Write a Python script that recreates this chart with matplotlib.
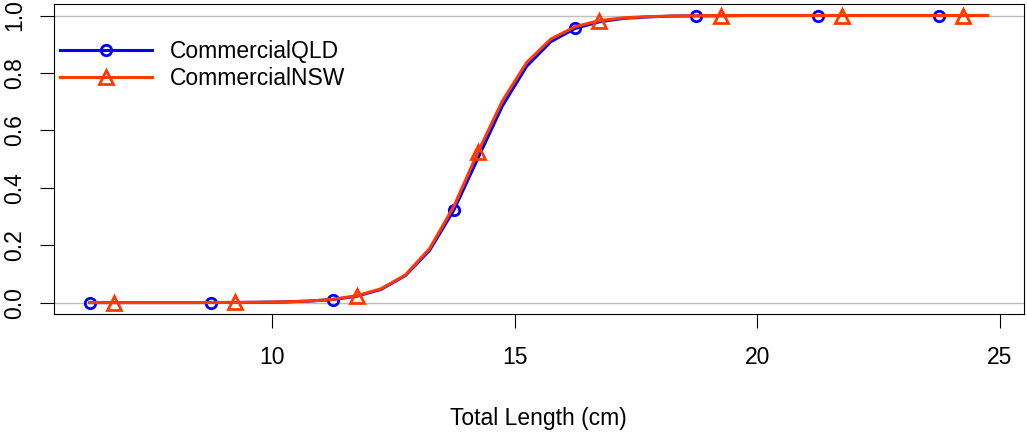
import matplotlib
matplotlib.use("Agg")
import matplotlib.pyplot as plt
import numpy as np

plt.rcParams["font.family"] = ["Liberation Sans", "DejaVu Sans"]
plt.rcParams["font.size"] = 16.5

# total length (cm), 0.5 cm bins
length = np.arange(6.25, 24.76, 0.5)

# estimated selectivity
qld = [0.000, 0.000, 0.000, 0.000, 0.000, 0.0002, 0.0005, 0.0011, 0.0023, 0.005,
       0.0105, 0.022, 0.046, 0.094, 0.182, 0.322, 0.504, 0.685, 0.823, 0.909,
       0.955, 0.978, 0.990, 0.995, 0.998, 0.999, 0.999, 1.000, 1.000, 1.000,
       1.000, 1.000, 1.000, 1.000, 1.000, 1.000, 1.000, 1.000]
nsw = [0.000, 0.000, 0.000, 0.000, 0.000, 0.0002, 0.0005, 0.0011, 0.0024, 0.0052,
       0.011, 0.024, 0.048, 0.096, 0.188, 0.335, 0.525, 0.702, 0.836, 0.918,
       0.961, 0.982, 0.992, 0.996, 0.998, 0.999, 1.000, 1.000, 1.000, 1.000,
       1.000, 1.000, 1.000, 1.000, 1.000, 1.000, 1.000, 1.000]
labels = ["CommercialQLD", "CommercialNSW"]

fig = plt.figure(figsize=(10.27, 4.32), dpi=100)
ax = fig.add_axes([0.0526, 0.273, 0.944, 0.7177])

ax.axhline(0, color="#bebebe", lw=1, zorder=1)
ax.axhline(1, color="#bebebe", lw=1, zorder=1)

ax.plot(length, qld, color="#0000ff", lw=2.2, marker="o", ms=7.5,
        mfc="none", mew=2, markevery=slice(0, None, 5), label=labels[0], zorder=2)
ax.plot(length, nsw, color="#ff3a00", lw=2.2, marker="^", ms=10,
        mfc="none", mew=2, markevery=slice(1, None, 5), label=labels[1], zorder=3)

# R style 4% padding
ax.set_xlim(6.25 - 0.74, 24.75 + 0.74)
ax.set_ylim(-0.04, 1.04)
ax.set_xticks([10, 15, 20, 25])
ax.set_yticks([0, 0.2, 0.4, 0.6, 0.8, 1.0])
ax.set_yticklabels(["0.0", "0.2", "0.4", "0.6", "0.8", "1.0"], rotation=90, va="center")
ax.tick_params(direction="out", length=10, width=0.8, pad=10)
ax.tick_params(axis="x", pad=13)
for s in ax.spines.values():
    s.set_linewidth(0.8)

ax.set_xlabel("Total Length (cm)", labelpad=27)

ax.legend(loc="upper left", bbox_to_anchor=(0.006, 0.885), frameon=False,
          borderpad=0, borderaxespad=0, handlelength=4, handletextpad=0.8,
          labelspacing=0.2)

fig.savefig("out.png", dpi=100)
